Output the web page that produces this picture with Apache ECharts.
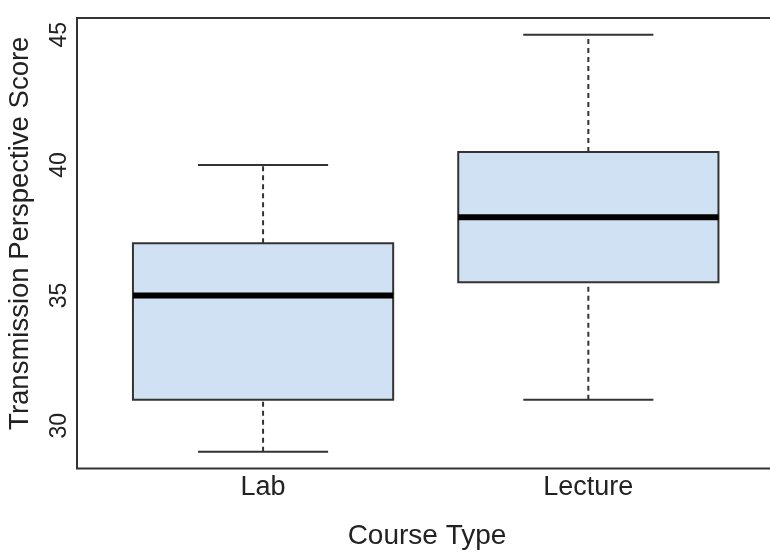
<!DOCTYPE html>
<html>
<head>
<meta charset="utf-8">
<script src="https://cdn.jsdelivr.net/npm/echarts@6/dist/echarts.min.js"></script>
<style>
  html, body { margin: 0; padding: 0; background: #fff; }
  #chart { width: 770px; height: 554px; }
</style>
</head>
<body>
<div id="chart"></div>
<script>
// Course types and five-number summaries of the transmission perspective score
const categories = ['Lab', 'Lecture'];
const lowerWhisker = [29, 31];
const lowerQuartile = [31, 35.5];
const medianScore = [35, 38];
const upperQuartile = [37, 40.5];
const upperWhisker = [40, 45];
const yTickValues = [30, 35, 40, 45];

const boxData = categories.map((c, i) => [
  i + 1, lowerWhisker[i], lowerQuartile[i], medianScore[i], upperQuartile[i], upperWhisker[i]
]);

const lineColor = '#333333';
const fillColor = '#cfe1f2';
const boxHalf = 0.4;
const capHalf = 0.2;

function renderBox(params, api) {
  const x = api.value(0);
  const lo = api.value(1), q1 = api.value(2), md = api.value(3), q3 = api.value(4), hi = api.value(5);
  const pt = (xx, yy) => api.coord([xx, yy]);
  const bl = pt(x - boxHalf, q1), tr = pt(x + boxHalf, q3);
  const dash = { stroke: lineColor, lineWidth: 2, lineDash: [5, 4] };
  const solid = { stroke: lineColor, lineWidth: 2 };
  const seg = (a, b, style) => ({
    type: 'line',
    shape: { x1: a[0], y1: a[1], x2: b[0], y2: b[1] },
    style: style
  });
  return {
    type: 'group',
    children: [
      seg(pt(x, q3), pt(x, hi), dash),
      seg(pt(x, lo), pt(x, q1), dash),
      seg(pt(x - capHalf, hi), pt(x + capHalf, hi), solid),
      seg(pt(x - capHalf, lo), pt(x + capHalf, lo), solid),
      {
        type: 'rect',
        shape: { x: bl[0], y: tr[1], width: tr[0] - bl[0], height: bl[1] - tr[1] },
        style: { fill: fillColor, stroke: lineColor, lineWidth: 2 }
      },
      seg(pt(x - boxHalf, md), pt(x + boxHalf, md), { stroke: '#000', lineWidth: 6 })
    ]
  };
}

const chart = echarts.init(document.getElementById('chart'), null, { renderer: 'canvas' });
chart.setOption({
  animation: false,
  backgroundColor: '#ffffff',
  textStyle: { fontFamily: 'Liberation Sans, Arial, sans-serif' },
  grid: {
    left: 77, top: 18, width: 700, height: 450.5,
    outerBoundsMode: 'none',
    containLabel: false,
    show: true, borderColor: lineColor, borderWidth: 2, backgroundColor: 'transparent'
  },
  xAxis: {
    type: 'value',
    min: 0.428, max: 2.58,
    name: 'Course Type',
    nameLocation: 'middle',
    nameGap: 54,
    nameTextStyle: { fontSize: 28, color: '#222', fontFamily: 'Liberation Sans' },
    axisLine: { show: false },
    axisTick: { show: false },
    splitLine: { show: false },
    axisLabel: {
      customValues: categories.map((c, i) => i + 1),
      formatter: v => categories[Math.round(v) - 1] || '',
      fontSize: 27, color: '#222', margin: 6, fontFamily: 'Liberation Sans'
    }
  },
  yAxis: {
    type: 'value',
    min: 28.36, max: 45.64,
    name: 'Transmission Perspective Score',
    nameLocation: 'middle',
    nameRotate: 90,
    nameGap: 43,
    nameTextStyle: { fontSize: 27.5, color: '#222', fontFamily: 'Liberation Sans', padding: [0, 0, 0, 20] },
    axisLine: { show: false },
    axisTick: { show: false },
    splitLine: { show: false },
    axisLabel: {
      customValues: yTickValues,
      rotate: 90,
      fontSize: 23, color: '#222', margin: 6, fontFamily: 'Liberation Sans'
    }
  },
  series: [{
    type: 'custom',
    renderItem: renderBox,
    encode: { x: 0, y: [1, 2, 3, 4, 5] },
    data: boxData
  }]
});
</script>
</body>
</html>
